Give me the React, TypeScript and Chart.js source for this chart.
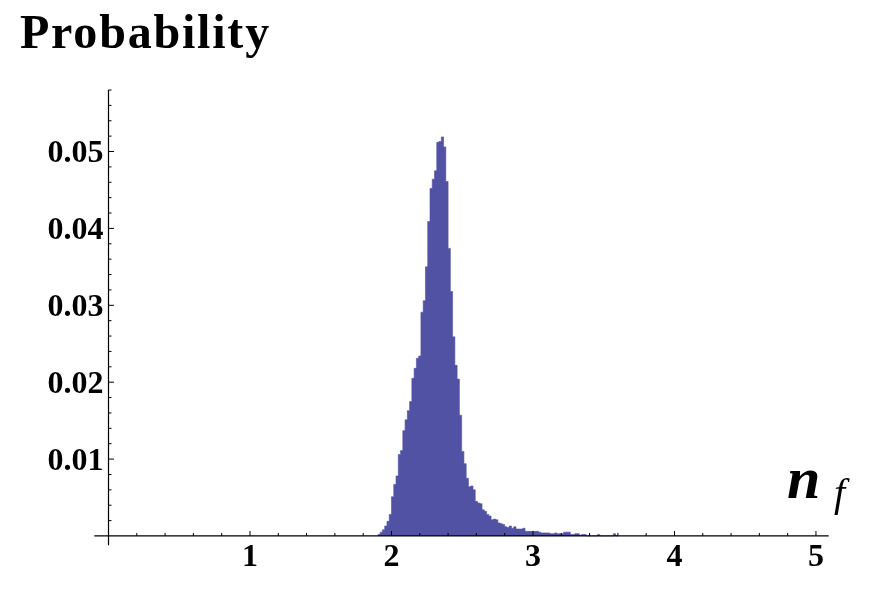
import React, { useEffect, useRef } from "react";
import { Chart, registerables } from "chart.js";

Chart.register(...registerables);

// ---- data ----
const binStart = 1.904;
const binWidth = 0.016;
const probabilities = [
  0.0001, 0.0002, 0.0005, 0.0008, 0.0013, 0.0019, 0.0028, 0.0051, 0.0067, 0.0078,
  0.0106, 0.0111, 0.0137, 0.0151, 0.0163, 0.0175, 0.0205, 0.0218, 0.0231, 0.0234,
  0.0291, 0.0306, 0.035, 0.0409, 0.0452, 0.0464, 0.0475, 0.0512, 0.0513, 0.0519,
  0.0506, 0.0461, 0.0374, 0.0318, 0.0259, 0.0222, 0.0204, 0.0157, 0.011, 0.0094,
  0.0075, 0.0064, 0.0065, 0.006, 0.0045, 0.0043, 0.0042, 0.0034, 0.0032, 0.0028,
  0.0026, 0.0021, 0.0022, 0.0021, 0.0017, 0.0016, 0.0015, 0.0012, 0.0011, 0.0013,
  0.001, 0.0012, 0.0009, 0.0009, 0.0009, 0.001, 0.0006, 0.0006, 0.0006, 0.0006,
  0.0006, 0.0006, 0.0005, 0.0004, 0.0004, 0.0004, 0.0004, 0.0003, 0.0003, 0.0004,
  0.0003, 0.0003, 0.0003, 0.0005, 0.0005, 0.0005, 0.0002, 0.0002, 0.0003, 0.0003,
  0.0001, 0.0002, 0.0002, 0, 0, 0, 0, 0, 0.0002, 0,
  0, 0, 0, 0, 0, 0.0003,
];

const xTickValues = [1, 2, 3, 4, 5];
const xTickLabels = ["1", "2", "3", "4", "5"];
const yTickValues = [0.01, 0.02, 0.03, 0.04, 0.05];
const yTickLabels = ["0.01", "0.02", "0.03", "0.04", "0.05"];
const xMinorStep = 0.2;
const yMinorStep = 0.002;
const xRange = [-0.1, 5.09];
const yRange = [-0.0012, 0.058];
const titleText = "Probability";
const xLabelMain = "n";
const xLabelSub = "f";

const barColor = "#5252A4";

// histogram outline: one step per bin (left edges) plus the closing right edge
const histogramSteps = [
  ...probabilities.map((p, i) => ({ x: binStart + binWidth * i, y: p })),
  { x: binStart + binWidth * probabilities.length, y: 0 },
];

const axesPlugin = {
  id: "mathematicaAxes",
  afterDraw(chart: any) {
    const ctx = chart.ctx as CanvasRenderingContext2D;
    const xs = chart.scales.x;
    const ys = chart.scales.y;
    const area = chart.chartArea;
    const x0 = xs.getPixelForValue(0);
    const y0 = ys.getPixelForValue(0);
    ctx.save();
    ctx.strokeStyle = "#000";
    ctx.fillStyle = "#000";
    ctx.lineWidth = 1.2;
    ctx.beginPath();
    ctx.moveTo(area.left, y0);
    ctx.lineTo(area.right, y0);
    ctx.moveTo(x0, area.top);
    ctx.lineTo(x0, area.bottom);
    ctx.stroke();

    ctx.lineWidth = 1;
    ctx.beginPath();
    for (let k = 1; k * xMinorStep <= xRange[1] + 1e-9; k++) {
      const v = k * xMinorStep;
      const isMajor = Math.abs(v - Math.round(v)) < 1e-6;
      const px = xs.getPixelForValue(v);
      ctx.moveTo(px, y0);
      ctx.lineTo(px, y0 - (isMajor ? 5 : 3));
    }
    for (let k = 1; k * yMinorStep <= yRange[1] + 1e-9; k++) {
      const v = k * yMinorStep;
      const isMajor = k % 5 === 0;
      const py = ys.getPixelForValue(v);
      ctx.moveTo(x0, py);
      ctx.lineTo(x0 + (isMajor ? 5.5 : 3), py);
    }
    ctx.stroke();

    ctx.font = 'bold 32px "Liberation Serif"';
    ctx.textBaseline = "alphabetic";
    ctx.textAlign = "center";
    xTickValues.forEach((v, i) => {
      ctx.fillText(xTickLabels[i], xs.getPixelForValue(v), y0 + 30);
    });
    ctx.textAlign = "right";
    yTickValues.forEach((v, i) => {
      ctx.fillText(yTickLabels[i], x0 - 5, ys.getPixelForValue(v) + 10.5);
    });

    ctx.textAlign = "left";
    ctx.font = 'bold 48px "Liberation Serif"';
    (ctx as any).letterSpacing = "1.8px";
    ctx.fillText(titleText, 20, 48);
    (ctx as any).letterSpacing = "0px";

    ctx.font = 'bold italic 60px "Liberation Serif"';
    ctx.fillText(xLabelMain, 787, 498);
    ctx.font = 'italic 40px "Liberation Serif"';
    ctx.fillText(xLabelSub, 834, 506);
    ctx.restore();
  },
};

export default function App() {
  const canvasRef = useRef<HTMLCanvasElement | null>(null);

  useEffect(() => {
    const canvas = canvasRef.current;
    if (!canvas) return;
    const chart = new Chart(canvas, {
      type: "line",
      data: {
        datasets: [
          {
            data: histogramSteps,
            stepped: "after",
            fill: "origin",
            backgroundColor: barColor,
            borderColor: barColor,
            borderWidth: 0.6,
            pointRadius: 0,
            tension: 0,
          } as any,
        ],
      },
      options: {
        animation: false,
        responsive: false,
        devicePixelRatio: 1,
        layout: { padding: { left: 94.35, right: 47.3, top: 90, bottom: 44.8 } },
        plugins: {
          legend: { display: false },
          tooltip: { enabled: false },
          title: { display: false },
        },
        scales: {
          x: {
            type: "linear",
            min: xRange[0],
            max: xRange[1],
            display: false,
          },
          y: {
            type: "linear",
            min: yRange[0],
            max: yRange[1],
            display: false,
          },
        },
      },
      plugins: [axesPlugin],
    });
    return () => chart.destroy();
  }, []);

  return (
    <div style={{ position: "fixed", left: 0, top: 0, width: 876, height: 590, background: "#fff" }}>
      <canvas ref={canvasRef} width={876} height={590} />
    </div>
  );
}
